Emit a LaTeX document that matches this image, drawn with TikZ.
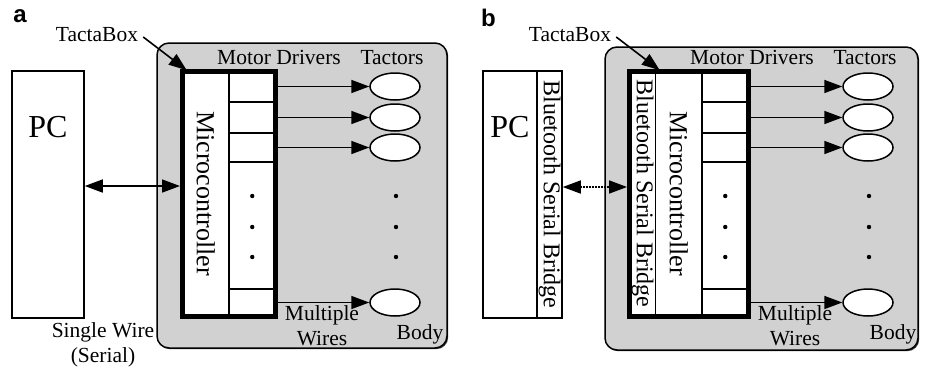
\documentclass[tikz,border=0pt]{standalone}
\usepackage{fontspec}
\usepackage{graphicx}
\setmainfont{Liberation Serif}
\newfontfamily\panelfont{Liberation Sans}
\usepackage{tikz}
\usetikzlibrary{arrows.meta,shapes.geometric,shadows}

\newcommand\mcfont{\fontsize{26}{30}\selectfont}
\newcommand\btfont{\fontsize{24}{28}\selectfont}
\newcommand\pcfont{\fontsize{32}{36}\selectfont}

\begin{document}
\begin{tikzpicture}[x=1pt,y=-1pt,>={Triangle[length=18pt,width=13pt]},
  tabox/.style={draw,fill=black!18,line width=1.5pt,rounded corners=12pt,inner sep=0pt,
    drop shadow={shadow xshift=1.2pt,shadow yshift=-1.2pt,fill=black!80,opacity=1}},
  cell/.style={draw,fill=white,line width=1.5pt,inner sep=0pt},
  mcbox/.style={draw,line width=5pt,inner sep=0pt,minimum height=245pt},
  tactor/.style={draw,ellipse,fill=white,line width=1.5pt,inner sep=0pt,minimum width=50pt,minimum height=27pt},
  lbl/.style={font=\fontsize{21.5}{25}\selectfont,inner sep=0pt,align=center},
  tag/.style={font=\panelfont\bfseries\fontsize{24}{24}\selectfont,inner sep=0pt},
  wire/.style={line width=1.6pt,->}]
  \useasboundingbox (0,0) rectangle (925,370);

  % grey TactaBox housings
  \node[tabox,minimum width=290pt,minimum height=305pt] (a-tb) at (302,195.5) {};
  \node[tabox,minimum width=313pt,minimum height=303pt] (b-tb) at (761.5,198.5) {};

  % host side
  \node[cell,minimum width=72pt,minimum height=247pt] (a-pc) at (48,194.5) {};
  \node[font=\pcfont,inner sep=0pt] (a-pcl) at (48,127) {PC};
  \node[cell,minimum width=54pt,minimum height=247pt] (b-pc) at (510,194.5) {};
  \node[font=\pcfont,inner sep=0pt] (b-pcl) at (510,127) {PC};
  \node[cell,minimum width=25pt,minimum height=247pt] (b-pbt) at (549.5,194.5) {\btfont\rotatebox{-90}{Bluetooth Serial Bridge}};
  \node[cell,minimum width=26pt,minimum height=245pt] (b-bt) at (642.5,193.5) {\btfont\rotatebox{-90}{Bluetooth Serial Bridge}};

  % same board in both panels
  \foreach \p/\dx in {a/0,b/473}{
    \node[cell,minimum width=46.5pt,minimum height=245pt] (\p-mc) at (205.75+\dx,193.5) {\mcfont\rotatebox{-90}{Microcontroller}};
    \node[cell,minimum width=46.5pt,minimum height=127pt] (\p-dm) at (252.25+\dx,225.5) {};
    \foreach \i/\y/\h in {1/86.5/31,2/117.5/31,3/147.5/29,4/302.5/27}{
      \node[cell,minimum width=46.5pt,minimum height=\h pt] (\p-d\i) at (252.25+\dx,\y) {};
      \node[tactor] (\p-t\i) at (395+\dx,\y) {};
      \draw[wire] (\p-d\i.east) -- (\p-t\i.west);
    }
    \foreach \y in {196,227,257}{
      \fill (252.25+\dx,\y) circle (2.2pt);
      \fill (396+\dx,\y) circle (2.2pt);
    }
    \node[lbl] (\p-md) at (279+\dx,57) {Motor Drivers};
    \node[lbl] (\p-tl) at (392+\dx,58) {Tactors};
    \node[lbl] (\p-mw) at (322+\dx,326) {Multiple\\Wires};
    \node[lbl] (\p-body) at (420+\dx,334) {Body};
    \node[lbl] (\p-tx) at (97+\dx,35) {TactaBox};
  }

  % thick outlines of the boards
  \node[mcbox,minimum width=93pt] (a-mb) at (229,193.5) {};
  \node[mcbox,minimum width=119pt] (b-mb) at (689,193.5) {};

  \foreach \p in {a,b}
    \draw[wire] ([xshift=5pt,yshift=-2pt]\p-tx.east) -- ([xshift=5pt]\p-mc.north west);

  % links to the PC
  \draw[line width=1.6pt,<->] ([yshift=8.5pt]a-pc.east) -- ([yshift=7.5pt]a-mb.west);
  \draw[line width=1.6pt,<->,dash pattern=on 1.5pt off 1.5pt] ([yshift=7.5pt]b-pbt.east) -- ([yshift=6.5pt]b-mb.west);
  \node[lbl] (a-sw) at (103,345) {Single Wire\\(Serial)};

  \node[tag] (a-tag) at (20,16.5) {a};
  \node[tag] (b-tag) at (488.5,17.5) {b};
\end{tikzpicture}
\end{document}
